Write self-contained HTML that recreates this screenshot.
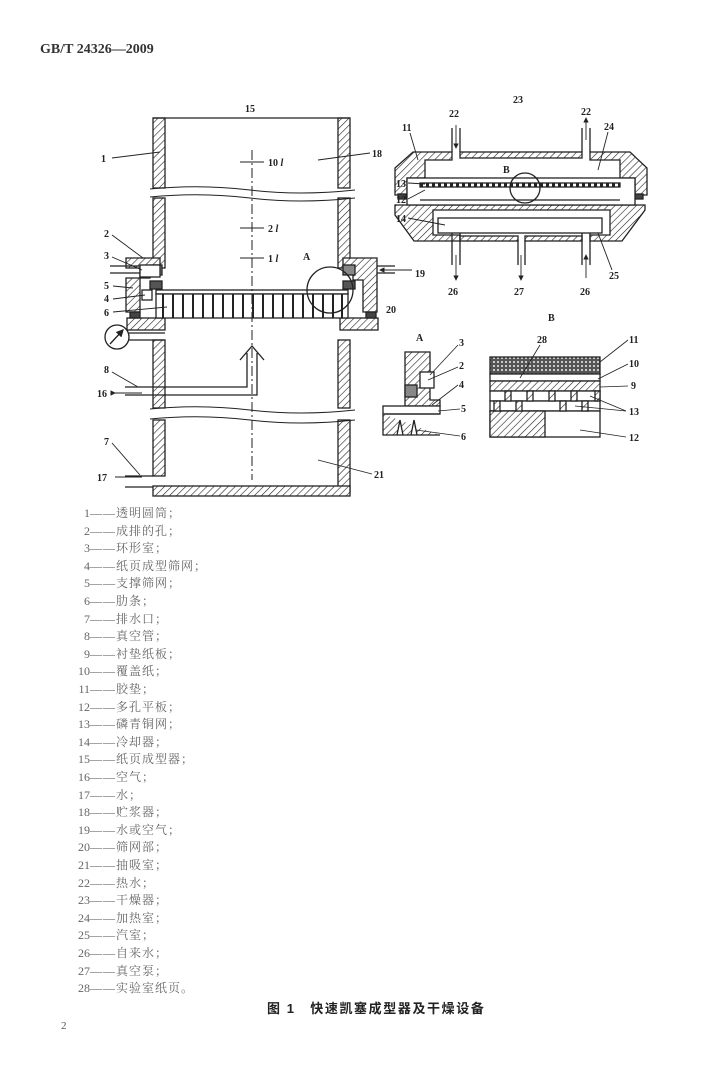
<!DOCTYPE html>
<html><head><meta charset="utf-8"><style>
html,body{margin:0;padding:0;background:#fff;}
body{width:720px;height:1074px;position:relative;overflow:hidden;font-family:"Liberation Serif","Noto Serif CJK SC",serif;}
.t{position:absolute;white-space:nowrap;}
.lg{position:absolute;left:60px;font-size:12px;color:#666;letter-spacing:1px;font-family:"Liberation Serif","Noto Serif CJK SC",serif;}
.lg span{display:inline-block;width:30px;text-align:right;letter-spacing:0;}
</style></head><body>
<div class="t" style="left:40px;top:42px;font-size:14px;font-weight:bold;color:#333;">GB/T 24326—2009</div>
<svg width="720" height="1074" style="position:absolute;left:0;top:0" font-family="Liberation Serif,serif" font-size="10" fill="#222">
<defs>
<pattern id="h" width="5" height="5" patternUnits="userSpaceOnUse" patternTransform="rotate(45)"><rect width="5" height="5" fill="#fff"/><line x1="0" y1="0" x2="0" y2="5" stroke="#222" stroke-width="1.2"/></pattern>
<pattern id="x" width="4" height="4" patternUnits="userSpaceOnUse"><rect width="4" height="4" fill="#555"/><circle cx="2" cy="2" r="1" fill="#eee"/></pattern>
<marker id="a" markerWidth="6" markerHeight="6" refX="5" refY="3" orient="auto"><path d="M0,0L6,3L0,6z" fill="#222"/></marker>
</defs>
<g stroke="#222" stroke-width="1.3">
<rect x="153" y="118" width="12" height="70" fill="url(#h)"/>
<rect x="338" y="118" width="12" height="70" fill="url(#h)"/>
<line x1="153" y1="118" x2="350" y2="118"/>
<rect x="153" y="198" width="12" height="70" fill="url(#h)"/>
<rect x="338" y="198" width="12" height="70" fill="url(#h)"/>
<rect x="153" y="340" width="12" height="68" fill="url(#h)"/>
<rect x="338" y="340" width="12" height="68" fill="url(#h)"/>
<rect x="153" y="420" width="12" height="56" fill="url(#h)"/>
<rect x="338" y="420" width="12" height="72" fill="url(#h)"/>
<rect x="153" y="486" width="197" height="10" fill="url(#h)"/>
<path d="M126,258H160V266H150V278H140V268H126Z" fill="url(#h)"/>
<path d="M126,278H140V312H126Z" fill="url(#h)"/>
<rect x="127" y="318" width="38" height="12" fill="url(#h)"/>
<path d="M343,258H377V312H363V280H353V266H343Z" fill="url(#h)"/>
<rect x="340" y="318" width="38" height="12" fill="url(#h)"/>
<rect x="150" y="265" width="12" height="10" fill="#888"/>
<rect x="343" y="265" width="12" height="10" fill="#888"/>
<rect x="150" y="281" width="12" height="8" fill="#555"/>
<rect x="343" y="281" width="12" height="8" fill="#555"/>
<rect x="130" y="312" width="10" height="6" fill="#444"/>
<rect x="366" y="312" width="10" height="6" fill="#444"/>
<rect x="140" y="265" width="20" height="12" fill="#fff"/>
<rect x="142" y="290" width="10" height="10" fill="#fff"/>
<rect x="156" y="290" width="192" height="4" fill="#fff"/>
<rect x="156" y="294" width="192" height="24" fill="#fff"/>
<g stroke-width="2">
<line x1="163" y1="294" x2="163" y2="318"/><line x1="173" y1="294" x2="173" y2="318"/><line x1="183" y1="294" x2="183" y2="318"/><line x1="193" y1="294" x2="193" y2="318"/><line x1="203" y1="294" x2="203" y2="318"/><line x1="213" y1="294" x2="213" y2="318"/><line x1="223" y1="294" x2="223" y2="318"/><line x1="233" y1="294" x2="233" y2="318"/><line x1="243" y1="294" x2="243" y2="318"/><line x1="253" y1="294" x2="253" y2="318"/><line x1="263" y1="294" x2="263" y2="318"/><line x1="273" y1="294" x2="273" y2="318"/><line x1="283" y1="294" x2="283" y2="318"/><line x1="293" y1="294" x2="293" y2="318"/><line x1="303" y1="294" x2="303" y2="318"/><line x1="313" y1="294" x2="313" y2="318"/><line x1="323" y1="294" x2="323" y2="318"/><line x1="333" y1="294" x2="333" y2="318"/><line x1="342" y1="294" x2="342" y2="318"/>
</g>
<line x1="110" y1="266" x2="140" y2="266"/><line x1="110" y1="273" x2="140" y2="273"/>
<line x1="377" y1="266" x2="395" y2="266"/><line x1="377" y1="273" x2="395" y2="273"/>
<circle cx="117" cy="337" r="12" fill="#fff"/><line x1="110" y1="344" x2="123" y2="330" marker-end="url(#a)"/>
<line x1="129" y1="333" x2="165" y2="333"/><line x1="129" y1="340" x2="165" y2="340"/>
<path d="M125,387H247V353M125,395H257V353" fill="none"/>
<path d="M240,360L252,346L264,360" fill="none"/>
<path d="M125,476H153M125,487H153" fill="none"/>
<circle cx="330" cy="290" r="23" fill="none"/>
<g stroke-dasharray="10,3,2,3" stroke-width="1"><line x1="252" y1="150" x2="252" y2="480"/></g>
<line x1="240" y1="162" x2="264" y2="162" stroke-width="1"/><line x1="240" y1="228" x2="264" y2="228" stroke-width="1"/><line x1="240" y1="258" x2="264" y2="258" stroke-width="1"/>
<path d="M150,189Q200,184 250,190T355,190M150,197Q200,192 250,198T355,198" fill="none" stroke-width="1"/>
<path d="M150,409Q200,404 250,410T355,410M150,419Q200,414 250,420T355,420" fill="none" stroke-width="1"/>
<g stroke-width="0.9">
<line x1="112" y1="158" x2="160" y2="152"/><line x1="370" y1="153" x2="318" y2="160"/>
<line x1="112" y1="235" x2="143" y2="258"/><line x1="112" y1="257" x2="142" y2="270"/>
<line x1="113" y1="286" x2="133" y2="288"/><line x1="113" y1="299" x2="145" y2="295"/><line x1="113" y1="312" x2="167" y2="307"/>
<line x1="112" y1="372" x2="138" y2="387"/><line x1="112" y1="443" x2="140" y2="475"/>
<line x1="372" y1="474" x2="318" y2="460"/>
<line x1="115" y1="393" x2="142" y2="393" marker-start="url(#a)"/>
<line x1="115" y1="477" x2="142" y2="477"/>
<line x1="412" y1="270" x2="380" y2="270" marker-end="url(#a)"/>
</g>
</g>
<g stroke="#222" stroke-width="1.3">
<path d="M395,168L413,152H452V160H425V178H407V195H395Z" fill="url(#h)"/>
<path d="M590,152H630L647,168V195H635V178H620V160H590Z" fill="url(#h)"/>
<rect x="460" y="152" width="122" height="6" fill="url(#h)"/>
<path d="M395,205H645V210L622,241H590V235H610V210H433V235H460V241H414L395,215Z" fill="url(#h)"/>
<rect x="460" y="236" width="58" height="5" fill="url(#h)"/><rect x="525" y="236" width="57" height="5" fill="url(#h)"/>
<rect x="398" y="194" width="8" height="5" fill="#444"/><rect x="635" y="194" width="8" height="5" fill="#444"/>
<rect x="407" y="178" width="228" height="27" fill="#fff"/>
<rect x="420" y="183" width="200" height="4" fill="#fff"/>
<line x1="420" y1="185" x2="620" y2="185" stroke-dasharray="3,3" stroke-width="3"/>
<line x1="420" y1="200" x2="620" y2="200"/>
<rect x="438" y="218" width="164" height="15" fill="#fff"/>
<path d="M452,128V152M460,128V152M582,128V152M590,128V152M452,233V265M460,233V265M518,240V265M525,240V265M582,233V265M590,233V265" fill="none"/>
<circle cx="525" cy="188" r="15" fill="none"/>
<g stroke-width="0.9">
<line x1="456" y1="125" x2="456" y2="148" marker-end="url(#a)"/>
<line x1="586" y1="140" x2="586" y2="118" marker-end="url(#a)"/>
<line x1="456" y1="255" x2="456" y2="280" marker-end="url(#a)"/>
<line x1="521" y1="255" x2="521" y2="280" marker-end="url(#a)"/>
<line x1="586" y1="278" x2="586" y2="255" marker-end="url(#a)"/>
<line x1="410" y1="133" x2="418" y2="160"/><line x1="608" y1="132" x2="598" y2="170"/>
<line x1="408" y1="183" x2="425" y2="184"/><line x1="408" y1="199" x2="425" y2="190"/><line x1="408" y1="218" x2="445" y2="225"/>
<line x1="612" y1="270" x2="598" y2="233"/>
</g>
<path d="M405,352H430V400H440V406H405Z" fill="url(#h)"/>
<rect x="420" y="372" width="14" height="16" fill="#fff"/>
<rect x="405" y="385" width="12" height="12" fill="#888"/>
<rect x="383" y="406" width="57" height="8" fill="#fff"/>
<line x1="383" y1="414" x2="440" y2="414"/>
<path d="M383,414V435H440M397,435L400,420L403,435M411,435L414,420L417,435" fill="url(#h)"/>
<g stroke-width="0.8"><line x1="458" y1="345" x2="430" y2="375"/><line x1="458" y1="367" x2="428" y2="380"/><line x1="458" y1="385" x2="432" y2="405"/><line x1="460" y1="409" x2="438" y2="411"/><line x1="460" y1="436" x2="416" y2="430"/></g>
<rect x="490" y="357" width="110" height="17" fill="url(#x)"/>
<rect x="490" y="374" width="110" height="7" fill="#fff"/>
<rect x="490" y="381" width="110" height="10" fill="url(#h)"/>
<rect x="490" y="391" width="110" height="10" fill="#fff"/>
<rect x="490" y="401" width="110" height="10" fill="#fff"/>
<rect x="490" y="411" width="110" height="26" fill="#fff"/>
<rect x="490" y="411" width="55" height="26" fill="url(#h)"/>
<g fill="url(#h)"><rect x="505" y="391" width="6" height="10"/><rect x="527" y="391" width="6" height="10"/><rect x="549" y="391" width="6" height="10"/><rect x="571" y="391" width="6" height="10"/><rect x="595" y="391" width="5" height="10"/><rect x="494" y="401" width="6" height="10"/><rect x="516" y="401" width="6" height="10"/><rect x="560" y="401" width="6" height="10"/><rect x="582" y="401" width="6" height="10"/></g>
<g stroke-width="0.8"><line x1="628" y1="340" x2="600" y2="362"/><line x1="628" y1="364" x2="598" y2="379"/><line x1="628" y1="386" x2="600" y2="387"/><line x1="626" y1="411" x2="590" y2="396"/><line x1="626" y1="411" x2="575" y2="406"/><line x1="626" y1="437" x2="580" y2="430"/><line x1="540" y1="345" x2="520" y2="378"/></g>
</g>
<g font-weight="bold">
<text x="245" y="112">15</text><text x="101" y="162">1</text><text x="372" y="157">18</text>
<text x="268" y="166">10 <tspan font-style="italic">l</tspan></text><text x="268" y="232">2 <tspan font-style="italic">l</tspan></text><text x="268" y="262">1 <tspan font-style="italic">l</tspan></text>
<text x="104" y="237">2</text><text x="104" y="259">3</text><text x="104" y="289">5</text><text x="104" y="302">4</text><text x="104" y="316">6</text>
<text x="104" y="373">8</text><text x="97" y="397">16</text><text x="104" y="445">7</text><text x="97" y="481">17</text>
<text x="374" y="478">21</text><text x="303" y="260">A</text><text x="415" y="277">19</text><text x="386" y="313">20</text>
<text x="513" y="103">23</text><text x="449" y="117">22</text><text x="581" y="115">22</text><text x="402" y="131">11</text><text x="604" y="130">24</text>
<text x="396" y="187">13</text><text x="396" y="203">12</text><text x="396" y="222">14</text><text x="503" y="173">B</text>
<text x="448" y="295">26</text><text x="514" y="295">27</text><text x="580" y="295">26</text><text x="609" y="279">25</text>
<text x="416" y="341">A</text><text x="459" y="346">3</text><text x="459" y="369">2</text><text x="459" y="388">4</text><text x="461" y="412">5</text><text x="461" y="440">6</text>
<text x="548" y="321">B</text><text x="537" y="343">28</text><text x="629" y="343">11</text><text x="629" y="367">10</text><text x="631" y="389">9</text><text x="629" y="415">13</text><text x="629" y="441">12</text>
</g>
</svg>
<div class="lg" style="top:504px"><span>1</span>——透明圆筒；</div>
<div class="lg" style="top:522px"><span>2</span>——成排的孔；</div>
<div class="lg" style="top:539px"><span>3</span>——环形室；</div>
<div class="lg" style="top:557px"><span>4</span>——纸页成型筛网；</div>
<div class="lg" style="top:574px"><span>5</span>——支撑筛网；</div>
<div class="lg" style="top:592px"><span>6</span>——肋条；</div>
<div class="lg" style="top:610px"><span>7</span>——排水口；</div>
<div class="lg" style="top:627px"><span>8</span>——真空管；</div>
<div class="lg" style="top:645px"><span>9</span>——衬垫纸板；</div>
<div class="lg" style="top:662px"><span>10</span>——覆盖纸；</div>
<div class="lg" style="top:680px"><span>11</span>——胶垫；</div>
<div class="lg" style="top:698px"><span>12</span>——多孔平板；</div>
<div class="lg" style="top:715px"><span>13</span>——磷青铜网；</div>
<div class="lg" style="top:733px"><span>14</span>——冷却器；</div>
<div class="lg" style="top:750px"><span>15</span>——纸页成型器；</div>
<div class="lg" style="top:768px"><span>16</span>——空气；</div>
<div class="lg" style="top:786px"><span>17</span>——水；</div>
<div class="lg" style="top:803px"><span>18</span>——贮浆器；</div>
<div class="lg" style="top:821px"><span>19</span>——水或空气；</div>
<div class="lg" style="top:838px"><span>20</span>——筛网部；</div>
<div class="lg" style="top:856px"><span>21</span>——抽吸室；</div>
<div class="lg" style="top:874px"><span>22</span>——热水；</div>
<div class="lg" style="top:891px"><span>23</span>——干燥器；</div>
<div class="lg" style="top:909px"><span>24</span>——加热室；</div>
<div class="lg" style="top:926px"><span>25</span>——汽室；</div>
<div class="lg" style="top:944px"><span>26</span>——自来水；</div>
<div class="lg" style="top:962px"><span>27</span>——真空泵；</div>
<div class="lg" style="top:979px"><span>28</span>——实验室纸页。</div>
<div class="t" style="left:267px;top:998px;font-size:13px;letter-spacing:1.6px;font-weight:bold;color:#222;font-family:'Liberation Sans','Noto Sans CJK SC',sans-serif;">图 1　快速凯塞成型器及干燥设备</div>
<div class="t" style="left:61px;top:1020px;font-size:11px;color:#555;">2</div>
</body></html>
